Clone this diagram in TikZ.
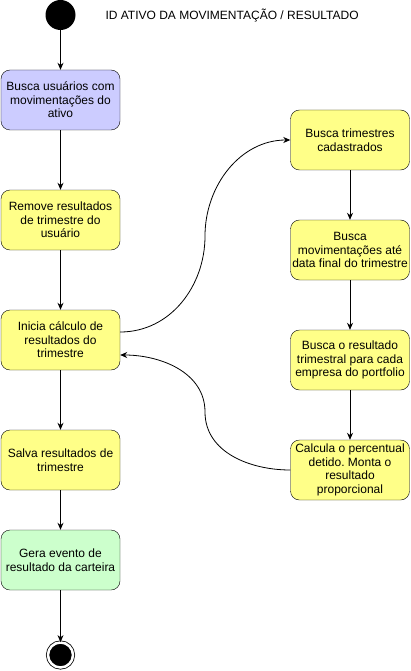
\documentclass[tikz,border=0pt]{standalone}
\usepackage{fontspec}
\setmainfont{Liberation Sans}
\usetikzlibrary{arrows.meta}
\definecolor{lilas}{HTML}{CCCCFF}
\definecolor{amarelo}{HTML}{FFFF88}
\definecolor{verde}{HTML}{CCFFCC}
\frenchspacing

\begin{document}
\begin{tikzpicture}[x=1pt,y=-1pt,
  acao/.style={draw,rounded corners=9pt,fill=amarelo,minimum width=119pt,
    minimum height=60pt,align=center,inner sep=0pt,
    font=\fontsize{12}{13.6}\selectfont},
  seta/.style={-{Stealth[length=7pt,width=6pt]},line width=0.8pt}]
\useasboundingbox (0,0) rectangle (411,671);
% estados inicial e final
\node[circle,fill=black,minimum size=30pt,inner sep=0pt] (inicio) at (60.5,15) {};
\node[anchor=west,font=\fontsize{12}{14}\selectfont] (titulo) at (102,16)
  {ID ATIVO DA MOVIMENTAÇÃO / RESULTADO};
\node[circle,draw,fill=black,minimum size=25pt,inner sep=0pt,
  double=white,double distance=2.5pt,line width=0.8pt] (fim) at (60.5,655) {};
% coluna da esquerda
\node[acao,fill=lilas] (usuarios) at (60.5,100) {Busca usuários com\\movimentações do\\ativo};
\node[acao] (remove) at (60.5,220) {Remove resultados\\de trimestre do\\usuário};
\node[acao] (inicia) at (60.5,340) {Inicia cálculo de\\resultados do\\trimestre};
\node[acao] (salva) at (60.5,460) {Salva resultados de\\trimestre};
\node[acao,fill=verde] (evento) at (60.5,560) {Gera evento de\\resultado da carteira};
% coluna da direita
\node[acao] (trimestres) at (350,140) {Busca trimestres\\cadastrados};
\node[acao] (movs) at (350,250) {Busca\\movimentações até\\data final do trimestre};
\node[acao] (resultado) at (350,360) {Busca o resultado\\trimestral para cada\\empresa do portfolio};
\node[acao] (calcula) at (350,470) {Calcula o percentual\\detido. Monta o\\resultado\\proporcional};
% ligacoes
\draw[seta] (inicio) -- (usuarios);
\draw[seta] (usuarios) -- (remove);
\draw[seta] (remove) -- (inicia);
\draw[seta] (inicia) -- (salva);
\draw[seta] (salva) -- (evento);
\draw[seta] (evento) -- (fim);
\draw[seta] (trimestres) -- (movs);
\draw[seta] (movs) -- (resultado);
\draw[seta] (resultado) -- (calcula);
\coordinate (ida) at (205,236);
\coordinate (volta) at (205,412);
\draw[seta] ([yshift=8pt]inicia.east) to[out=0,in=-90] (ida) to[out=90,in=180] (trimestres.west);
\draw[seta] (calcula.west) to[out=180,in=-90] (volta) to[out=90,in=0] ([yshift=-15pt]inicia.east);
\end{tikzpicture}
\end{document}
